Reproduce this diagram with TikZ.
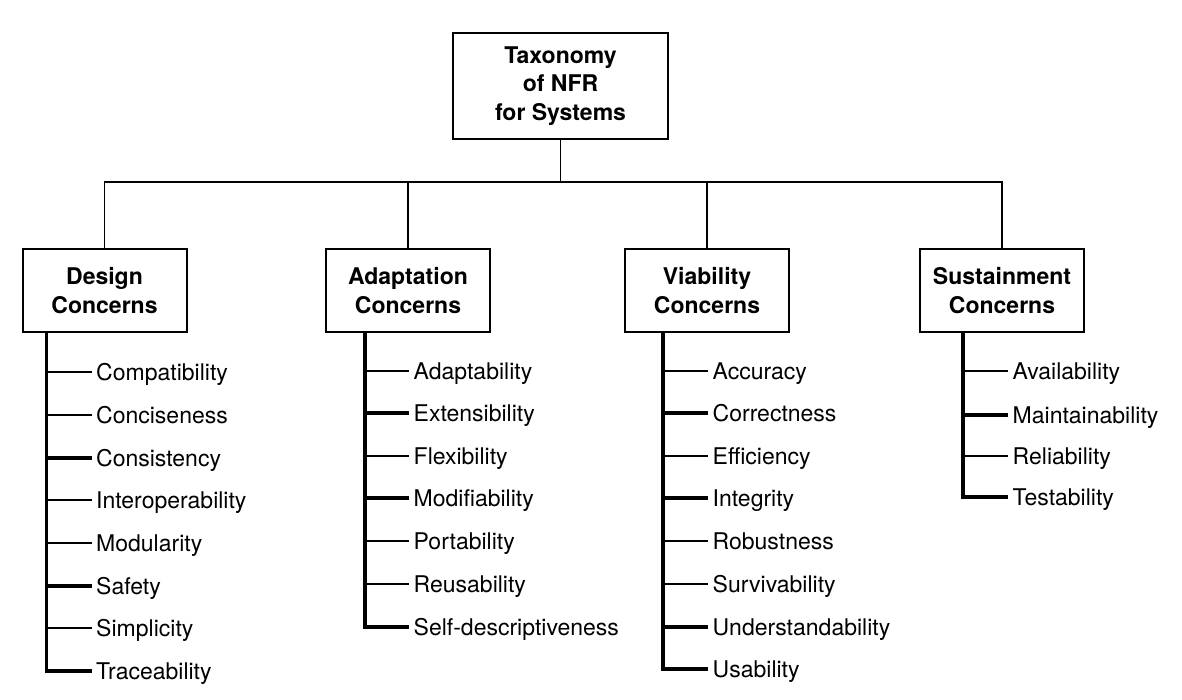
\documentclass[tikz,border=0pt]{standalone}
\usepackage{fontspec}
\setmainfont{TeX Gyre Heros}
\begin{document}
\begin{tikzpicture}[x=1pt,y=1pt,
  box/.style={draw,line width=2pt,font=\bfseries\fontsize{23}{28.5}\selectfont,align=center,inner sep=0pt},
  cat/.style={box,minimum width=164pt,minimum height=83pt},
  link/.style={line width=1.9pt},
  spine/.style={line width=3.2pt},
  tick/.style={line width=2.5pt},
  tickb/.style={line width=3.2pt},
  item/.style={anchor=base west,inner sep=0pt,font=\fontsize{23}{28}\selectfont}]
\useasboundingbox (0,0) rectangle (1182,699);
% root
\node[box,minimum width=215pt,minimum height=106pt] (root) at (560.5,613) {Taxonomy\\of NFR\\for Systems};
\coordinate (bus) at (0,517);
% categories
\node[cat] (design) at (104.5,408.5) {Design\\Concerns};
\node[cat] (adapt) at (408,408.5) {Adaptation\\Concerns};
\node[cat] (viab) at (707,408.5) {Viability\\Concerns};
\node[cat] (sust) at (1002,408.5) {Sustainment\\Concerns};
% connectors
\draw[link] (root.south) -- (root.south |- bus);
\draw[link] (design.north) -- (design.north |- bus) -- (sust.north |- bus) -- (sust.north);
\draw[link] (adapt.north) -- (adapt.north |- bus);
\draw[link] (viab.north) -- (viab.north |- bus);
% design items
\coordinate (ds) at ([xshift=25pt]design.south west);
\foreach \n/\t/\y/\s in {1/Compatibility/372/tick,2/Conciseness/415/tick,3/Consistency/458/tickb,4/Interoperability/500/tick,5/Modularity/543/tick,6/Safety/586/tickb,7/Simplicity/628/tick,8/Traceability/671/tickb}{
  \coordinate (dt\n) at (92,699-\y);
  \node[item] (d\n) at ([xshift=4pt,yshift=-8.3pt]dt\n) {\t};
  \draw[\s] (ds |- dt\n) -- (dt\n);
}
\draw[spine] ([yshift=1pt]ds) -- ([yshift=-1.6pt]ds |- dt8);
% adaptation items
\coordinate (as) at ([xshift=40pt]adapt.south west);
\foreach \n/\t/\y/\s in {1/Adaptability/371/tick,2/Extensibility/413/tickb,3/Flexibility/456/tick,4/Modifiability/498/tickb,5/Portability/541/tick,6/Reusability/584/tick,7/Self-descriptiveness/627/tickb}{
  \coordinate (at\n) at (409,699-\y);
  \node[item] (a\n) at ([xshift=4.5pt,yshift=-8.3pt]at\n) {\t};
  \draw[\s] (as |- at\n) -- (at\n);
}
\draw[spine] ([yshift=1pt]as) -- ([yshift=-1.6pt]as |- at7);
% viability items
\coordinate (vs) at ([xshift=39pt]viab.south west);
\foreach \n/\t/\y/\s in {1/Accuracy/371/tick,2/Correctness/413/tickb,3/Efficiency/456/tick,4/Integrity/498/tickb,5/Robustness/541/tick,6/Survivability/584/tick,7/Understandability/627/tickb,8/Usability/669/tickb}{
  \coordinate (vt\n) at (708,699-\y);
  \node[item] (v\n) at ([xshift=4.5pt,yshift=-8.3pt]vt\n) {\t};
  \draw[\s] (vs |- vt\n) -- (vt\n);
}
\draw[spine] ([yshift=1pt]vs) -- ([yshift=-1.6pt]vs |- vt8);
% sustainment items
\coordinate (ss) at ([xshift=44pt]sust.south west);
\foreach \n/\t/\y/\s in {1/Availability/371/tick,2/Maintainability/415/tickb,3/Reliability/456/tick,4/Testability/497/tickb}{
  \coordinate (st\n) at (1008,699-\y);
  \node[item] (s\n) at ([xshift=4.5pt,yshift=-8.3pt]st\n) {\t};
  \draw[\s] (ss |- st\n) -- (st\n);
}
\draw[spine] ([yshift=1pt]ss) -- ([yshift=-1.6pt]ss |- st4);
\end{tikzpicture}
\end{document}
